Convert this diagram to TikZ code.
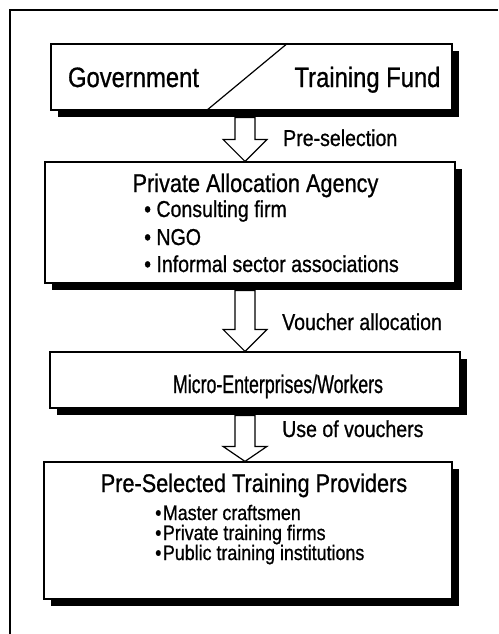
\documentclass[tikz,border=0pt]{standalone}
\usepackage{fontspec}
\setmainfont{Liberation Sans}[FakeStretch=0.85, FakeBold=0.8]
\usetikzlibrary{shadows,calc}

\tikzset{
  stage/.style={draw, line width=1.2pt, fill=white, rectangle, inner sep=0pt,
    drop shadow={shadow xshift=7pt, shadow yshift=-7pt, fill=black, opacity=1}},
  heading/.style={font=\fontsize{25.5}{26}\selectfont, inner sep=0pt, anchor=base},
  bigtext/.style={font=\fontsize{28}{28}\selectfont, inner sep=0pt, anchor=base},
  item/.style={font=\fontsize{23}{23}\selectfont, inner sep=0pt, anchor=base west},
  smallitem/.style={item, font=\fontsize{21}{21}\selectfont},
  flowlabel/.style={font=\fontsize{23}{23}\selectfont, inner sep=0pt, anchor=base west},
  blockarrow/.style={draw, line width=1.2pt, fill=white, line join=miter},
}

% arrow from the shadow of #1 down to the top of #2, head length #3
\newcommand{\flowarrow}[3]{
  \draw[blockarrow] ($(axis |- #1.south)+(-10,7)$) -- ($(axis |- #2.north)+(-10,-#3)$)
    -- ++(-12,0) -- (axis |- #2.north) -- ($(axis |- #2.north)+(22,-#3)$)
    -- ++(-12,0) -- ($(axis |- #1.south)+(10,7)$) -- cycle;
}

\begin{document}
\begin{tikzpicture}[x=1pt, y=-1pt]
\useasboundingbox (0,0) rectangle (498,634);
\coordinate (axis) at (245,0);

% frame
\draw[line width=1.5pt] (498,10) -- (10,10) -- (10,634);

% boxes
\node[stage, minimum width=401pt, minimum height=66pt] (src) at (251.5,77) {};
\node[stage, minimum width=410pt, minimum height=121pt] (paa) at (250,222.5) {};
\node[stage, minimum width=410pt, minimum height=56pt] (mew) at (255,380) {};
\node[stage, minimum width=408pt, minimum height=137pt] (pstp) at (248,530.5) {};

% source box split
\draw[line width=1.2pt] ($(src.south west)+(156,0)$) -- ($(src.north west)+(237,0)$);
\node[bigtext] (gov) at (133.5,87) {Government};
\node[bigtext] (fund) at (367.5,87) {Training Fund};

% allocation agency
\node[heading] (paah) at (255.5,192) {Private Allocation Agency};
\node[item] (paa1) at (144,217) {• Consulting firm};
\node[item] (paa2) at (144,245) {• NGO};
\node[item] (paa3) at (144,272) {• Informal sector associations};

% micro-enterprises
\node[heading] (mewh) at (278,393) {\scalebox{0.82}[1]{Micro-Enterprises/Workers}};

% training providers
\node[heading] (pstph) at (254,492) {Pre-Selected Training Providers};
\node[smallitem] (pstp1) at (155,520) {•\hspace{1.5pt}Master craftsmen};
\node[smallitem] (pstp2) at (155,540) {•\hspace{1.5pt}Private training firms};
\node[smallitem] (pstp3) at (155,560) {•\hspace{1.5pt}Public training institutions};

% arrows
\flowarrow{src}{paa}{22}
\flowarrow{paa}{mew}{22}
\flowarrow{mew}{pstp}{15}
\node[flowlabel] (presel) at (283,146) {Pre-selection};
\node[flowlabel] (alloc) at (282,330) {Voucher allocation};
\node[flowlabel] (use) at (282,437) {Use of vouchers};
\end{tikzpicture}
\end{document}
